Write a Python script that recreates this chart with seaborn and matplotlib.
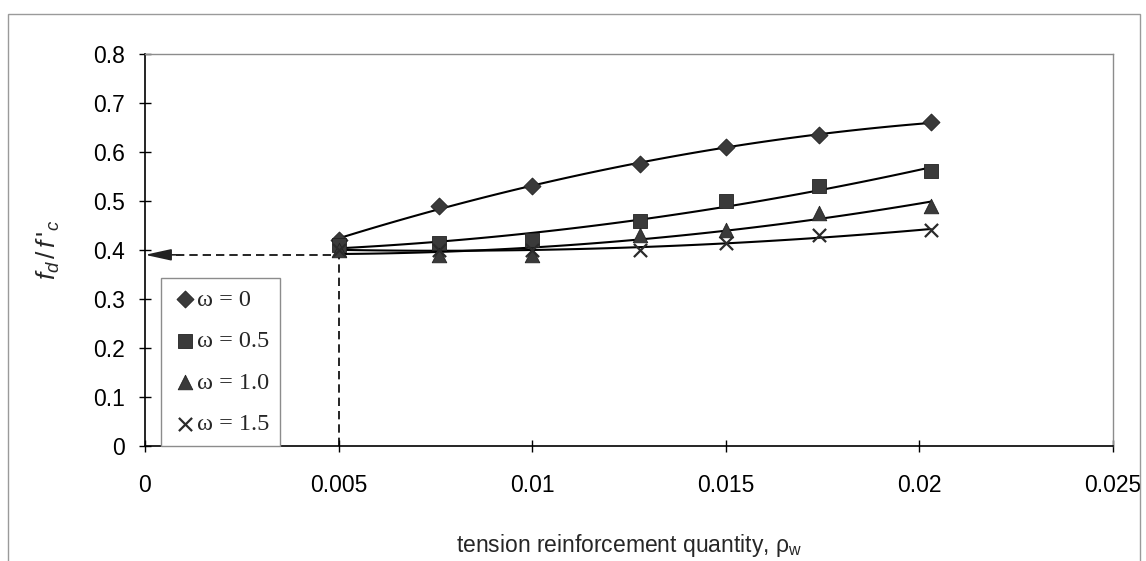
import numpy as np
import pandas as pd
import matplotlib
matplotlib.use('Agg')
import matplotlib.pyplot as plt
import seaborn as sns
from matplotlib.ticker import FuncFormatter, MultipleLocator
from matplotlib.patches import Rectangle

# Data
rho_w = [0.005, 0.0076, 0.01, 0.0128, 0.015, 0.0174, 0.0203]
ratio_w0 = [0.42, 0.49, 0.53, 0.575, 0.61, 0.635, 0.66]
ratio_w05 = [0.41, 0.415, 0.42, 0.46, 0.50, 0.53, 0.56]
ratio_w10 = [0.40, 0.39, 0.39, 0.43, 0.44, 0.475, 0.49]
ratio_w15 = [0.40, 0.40, 0.40, 0.40, 0.415, 0.43, 0.44]
labels = ['ω = 0', 'ω = 0.5', 'ω = 1.0', 'ω = 1.5']
markers = ['D', 's', '^', 'x']

# design point marked with the dashed arrow
design_rho = 0.005
design_ratio = 0.39

sns.set_style('ticks')
plt.rcParams['font.family'] = ['Liberation Sans', 'DejaVu Sans']
plt.rcParams['mathtext.fontset'] = 'custom'
plt.rcParams['mathtext.it'] = 'Liberation Sans:italic'
plt.rcParams['mathtext.rm'] = 'Liberation Sans'

fig = plt.figure(figsize=(11.46, 5.61), dpi=100)
ax = fig.add_axes([0.1265, 0.205, 0.8445, 0.699])

# outer chart border
fig.patches.append(Rectangle((8 / 1146, -0.01), 1132 / 1146, 1 - 14 / 561 + 0.01,
                             transform=fig.transFigure, fill=False,
                             edgecolor='#9a9a9a', linewidth=1.0))

series = [ratio_w0, ratio_w05, ratio_w10, ratio_w15]
for vals, lab, mk in zip(series, labels, markers):
    df = pd.DataFrame({'rho': rho_w, 'ratio': vals})
    # polynomial trend line
    sns.regplot(data=df, x='rho', y='ratio', order=2, ci=None, scatter=False,
                ax=ax, color='black', line_kws={'linewidth': 1.5}, truncate=True)
    if mk == 'x':
        sns.scatterplot(data=df, x='rho', y='ratio', marker='x', s=90,
                        color='#2a2a2a', linewidth=1.6, ax=ax, label=lab, zorder=3)
    else:
        size = 75 if mk == 'D' else 110
        sns.scatterplot(data=df, x='rho', y='ratio', marker=mk, s=size,
                        color='#3a3a3a', edgecolor='#222222', linewidth=0.6,
                        ax=ax, label=lab, zorder=3)

# dashed guide lines and arrow
ax.plot([design_rho, design_rho], [0, design_ratio], linestyle=(0, (5, 3)),
        color='black', linewidth=1.2, zorder=2)
ax.plot([0.0008, design_rho], [design_ratio, design_ratio], linestyle=(0, (5, 3)),
        color='black', linewidth=1.2, zorder=2)
ax.annotate('', xy=(0, design_ratio), xytext=(0.0009, design_ratio),
            arrowprops=dict(arrowstyle='-|>,head_length=1.6,head_width=0.35',
                            color='#222222', linewidth=1.2, shrinkA=0, shrinkB=0),
            annotation_clip=False, zorder=4)

ax.set_xlim(0, 0.025)
ax.set_ylim(0, 0.8)
ax.xaxis.set_major_locator(MultipleLocator(0.005))
ax.yaxis.set_major_locator(MultipleLocator(0.1))
ax.xaxis.set_major_formatter(FuncFormatter(lambda v, p: '%g' % round(v, 4)))
ax.yaxis.set_major_formatter(FuncFormatter(lambda v, p: '%g' % round(v, 2)))
ax.tick_params(direction='inout', length=9, width=1, labelsize=16.5, colors='black')
ax.tick_params(axis='x', pad=16)
ax.tick_params(axis='y', pad=10)

for side in ['top', 'right']:
    ax.spines[side].set_visible(True)
    ax.spines[side].set_color('#8c8c8c')
    ax.spines[side].set_linewidth(1.0)
for side in ['left', 'bottom']:
    ax.spines[side].set_color('black')
    ax.spines[side].set_linewidth(1.2)

ax.set_xlabel(r'tension reinforcement quantity, ρ$_{\rm w}$', fontsize=16.5, labelpad=25)
ax.set_ylabel(r"$f_d\,/\,f\,'_c$", fontsize=19, labelpad=22)

leg = ax.legend(loc='lower left', bbox_to_anchor=(0.017, 0.0), frameon=True,
                fancybox=False, edgecolor='#8c8c8c', framealpha=1,
                prop={'family': 'Liberation Serif', 'size': 17.5},
                labelspacing=0.8, handletextpad=0.0, borderpad=0.45,
                handlelength=1.0, borderaxespad=0)
leg.get_frame().set_linewidth(1.0)

fig.savefig('out.png', dpi=100)
